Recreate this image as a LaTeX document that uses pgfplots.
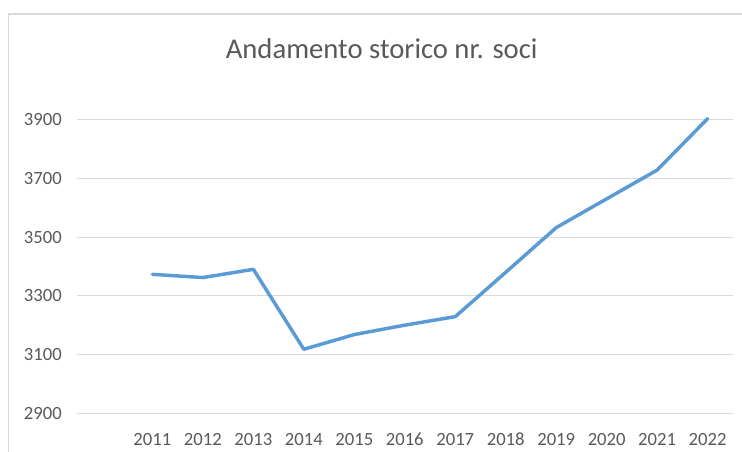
\documentclass[border=0pt]{standalone}
\usepackage{pgfplots}
\pgfplotsset{compat=1.18}
\usepackage{fontspec}
\setmainfont{Carlito}
\definecolor{lineblue}{HTML}{5B9BD5}
\definecolor{gridgray}{HTML}{D9D9D9}
\definecolor{textgray}{HTML}{595959}
\begin{document}
\begin{tikzpicture}
% page = 742x452 px, 1px = 0.75pt
\path[use as bounding box] (0,0) rectangle (556.5pt,339pt);
% chart frame (cropped at right and bottom)
\draw[gridgray, line width=1pt] (6.2pt,0pt) -- (6.2pt,328.5pt) -- (556.5pt,328.5pt);
% title
\node[anchor=base, inner sep=0pt, text=textgray, font=\fontsize{21.5}{24}\selectfont]
  at (286.3pt,295.3pt) {Andamento storico nr. soci};
\begin{axis}[
  at={(57.5pt,29.0pt)}, anchor=south west,
  scale only axis,
  width=492.2pt, height=220.4pt,
  xmin=2009.5, xmax=2022.5,
  ymin=2900, ymax=3900,
  xtick={2011,...,2022},
  ytick={2900,3100,...,3900},
  /pgf/number format/assume math mode=true,
  /pgf/number format/1000 sep={},
  axis line style={draw=none},
  major tick length=0pt,
  ymajorgrids,
  major grid style={gridgray, line width=0.75pt},
  ticklabel style={text=textgray, font=\fontsize{14}{16}\selectfont, inner sep=0pt},
  yticklabel style={anchor=east, xshift=-11pt},
  xticklabel style={anchor=base, yshift=-23.8pt},
  clip=false,
]
\addplot[lineblue, line width=2.6pt, line join=round, line cap=round, mark=none] coordinates {
  (2011,3373) (2012,3362) (2013,3390) (2014,3118) (2015,3168) (2016,3200)
  (2017,3229) (2018,3380) (2019,3532) (2020,3630) (2021,3728) (2022,3903)
};
\end{axis}
\end{tikzpicture}
\end{document}
